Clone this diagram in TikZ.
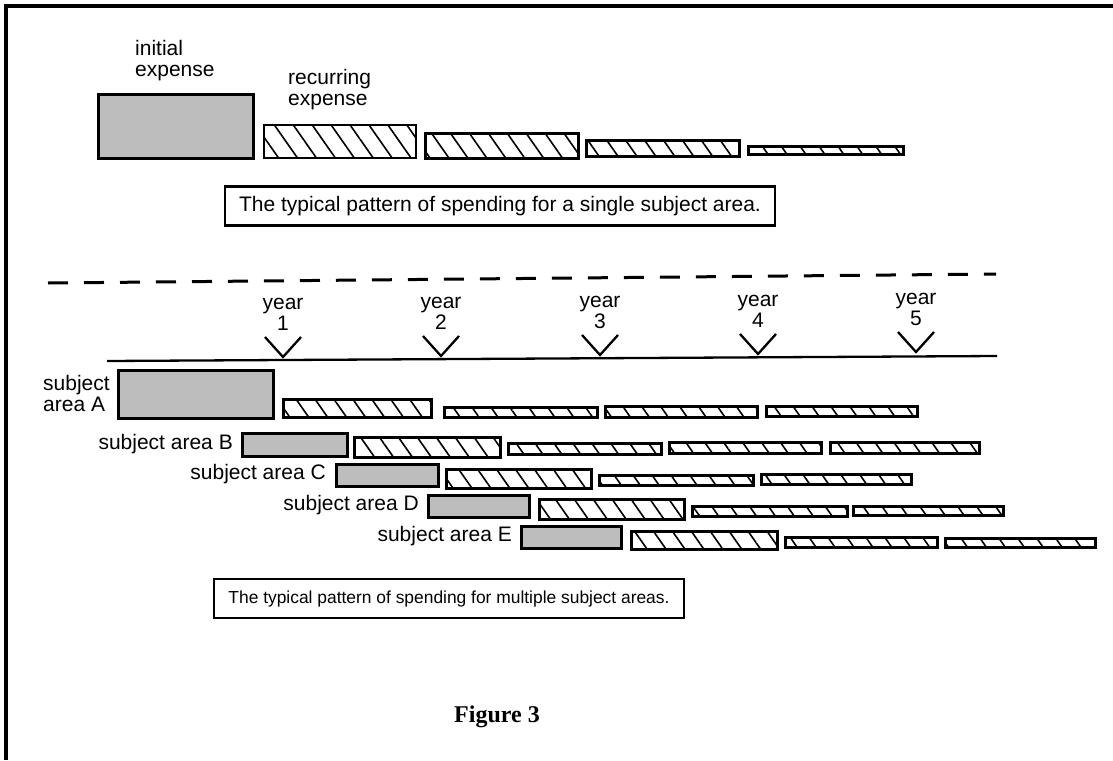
\documentclass[tikz,border=0pt]{standalone}
\usepackage{fontspec}
\setmainfont{Liberation Sans}
\newfontfamily\figfont{Liberation Serif}
\usetikzlibrary{patterns.meta}
\newcommand\barbox[6]{\node[#1, anchor=north west, minimum width={(#4-#2)*1pt}, minimum height={(#5-#3)*1pt}] (#6) at (#2,#3) {};}
\begin{document}
\begin{tikzpicture}[x=1pt,y=-1pt,
  gbox/.style={draw, line width=2.7pt, fill=black!26, inner sep=0pt},
  hbox/.style={draw, line width=2.5pt, inner sep=0pt, pattern={Lines[angle=-55,distance=15.5pt,line width=1.6pt]}},
  lbl/.style={font=\fontsize{21}{21}\selectfont, inner sep=0pt},
  capbox/.style={draw, line width=2.3pt, inner sep=0pt},
  vmark/.style={line width=2.3pt}]
\useasboundingbox (0,0) rectangle (1113,760);
% frame
\draw[line width=3.2pt] (6,760) -- (6,6) -- (1113,6);
% top section
\node[lbl, align=left, anchor=north west] (ini) at (135,40) {initial\\expense};
\node[lbl, align=left, anchor=north west] (rec) at (288,69) {recurring\\expense};
\barbox{gbox}{97}{93}{252}{157}{t1}
\barbox{hbox}{263}{124}{415}{157}{t2}
\barbox{hbox}{424}{132}{577}{157}{t3}
\barbox{hbox}{585}{139}{738}{155}{t4}
\barbox{hbox}{747}{145}{902}{153}{t5}
\node[capbox, minimum width=550pt, minimum height=39pt, font=\fontsize{21}{22}\selectfont] (cap1) at (500,206) {The typical pattern of spending for a single subject area.};
% separator
\draw[line width=3pt, dash pattern=on 20pt off 16pt] (48,283) -- (996,274);
% timeline
\draw[line width=2.3pt] (107,361) -- (997,356);
\foreach \n/\xa/\ya in {1/283/357, 2/441/356, 3/600/355, 4/758/354, 5/916/352}{
  \draw[vmark] (\xa-18,\ya-20) -- (\xa,\ya) -- (\xa+18,\ya-20);
  \node[lbl, align=center, anchor=south] (y\n) at (\xa,\ya-26) {year\\\n};
}
% subject area A
\node[lbl, align=left, anchor=north west] (la) at (43,375) {subject\\area A};
\barbox{gbox}{117}{369}{272}{417}{a1}
\barbox{hbox}{282}{398}{430}{416}{a2}
\barbox{hbox}{443}{406}{596}{416}{a3}
\barbox{hbox}{604}{405}{756}{416}{a4}
\barbox{hbox}{765}{405}{916}{415}{a5}
% B
\node[lbl, anchor=east] (lb) at (233,444) {subject area B};
\barbox{gbox}{241}{432}{346}{455}{b1}
\barbox{hbox}{353}{436}{499}{456}{b2}
\barbox{hbox}{507}{442}{660}{453}{b3}
\barbox{hbox}{668}{441}{820}{452}{b4}
\barbox{hbox}{829}{441}{978}{452}{b5}
% C
\node[lbl, anchor=east] (lc) at (326,474) {subject area C};
\barbox{gbox}{335}{463}{437}{485}{c1}
\barbox{hbox}{445}{468}{590}{487}{c2}
\barbox{hbox}{598}{474}{752}{484}{c3}
\barbox{hbox}{760}{473}{910}{483}{c4}
% D
\node[lbl, anchor=east] (ld) at (419,505) {subject area D};
\barbox{gbox}{427}{494}{528}{516}{d1}
\barbox{hbox}{538}{498}{683}{518}{d2}
\barbox{hbox}{691}{505}{846}{515}{d3}
\barbox{hbox}{852}{505}{1002}{514}{d4}
% E
\node[lbl, anchor=east] (le) at (512,536) {subject area E};
\barbox{gbox}{520}{525}{620}{547}{e1}
\barbox{hbox}{630}{530}{776}{548}{e2}
\barbox{hbox}{784}{536}{936}{546}{e3}
\barbox{hbox}{944}{537}{1094}{546}{e4}
\node[capbox, minimum width=470pt, minimum height=39pt, font=\fontsize{17.4}{19}\selectfont] (cap2) at (449,598.5) {The typical pattern of spending for multiple subject areas.};
\node[font=\figfont\bfseries\fontsize{24}{26}\selectfont, inner sep=0pt, anchor=base] (fig) at (497,722) {Figure 3};
\end{tikzpicture}
\end{document}
